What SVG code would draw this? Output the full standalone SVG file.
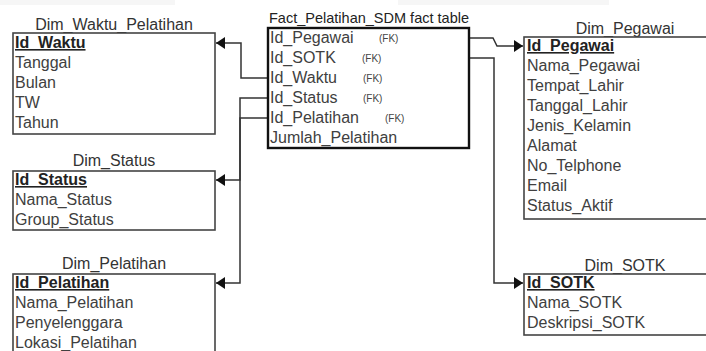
<svg xmlns="http://www.w3.org/2000/svg" width="706" height="351" viewBox="0 0 706 351">
<defs>
<style>
.t{font-family:"Liberation Sans",Arial,sans-serif;font-size:16px;fill:#404040}
.k{font-family:"Liberation Sans",Arial,sans-serif;font-size:16px;fill:#222;font-weight:bold;text-decoration:underline}
.fk{font-family:"Liberation Sans",Arial,sans-serif;font-size:10px;fill:#444}
.ttl{font-family:"Liberation Sans",Arial,sans-serif;font-size:16px;fill:#333;text-anchor:middle}
.box{fill:#fff;stroke:#444;stroke-width:1.6}
.fact{fill:#fff;stroke:#111;stroke-width:2.4}
.c{fill:none;stroke:#333;stroke-width:1.5}
</style>
<marker id="ah" viewBox="0 0 9 12" refX="9" refY="6" markerWidth="9" markerHeight="12" markerUnits="userSpaceOnUse" orient="auto">
<path d="M0,0 L9,6 L0,12 z" fill="#111"/>
</marker>
</defs>
<rect x="0" y="0" width="706" height="351" fill="#fff"/>
<rect x="0" y="0" width="175" height="5" fill="#f6f6f6"/>
<rect x="398" y="0" width="211" height="5" fill="#f6f6f6"/>

<g id="connectors">
<path class="c" d="M268,78 H241 V43 H216" marker-end="url(#ah)"/>
<path class="c" d="M268,98 H240 V180 H216" marker-end="url(#ah)"/>
<path class="c" d="M268,118 H240 V283 H216" marker-end="url(#ah)"/>
<path class="c" d="M469,38 H493 L497,46 H523" marker-end="url(#ah)"/>
<path class="c" d="M469,58 H494 V283 H523" marker-end="url(#ah)"/>
</g>

<g id="dim_waktu">
<text class="ttl" x="114" y="30">Dim_Waktu_Pelatihan</text>
<rect class="box" x="13" y="33" width="202" height="101"/>
<text class="k" x="15" y="48">Id_Waktu</text>
<text class="t" x="15" y="68">Tanggal</text>
<text class="t" x="15" y="88">Bulan</text>
<text class="t" x="15" y="108">TW</text>
<text class="t" x="15" y="128">Tahun</text>
</g>

<g id="dim_status">
<text class="ttl" x="114" y="166">Dim_Status</text>
<rect class="box" x="13" y="171" width="202" height="59"/>
<text class="k" x="15" y="185">Id_Status</text>
<text class="t" x="15" y="205">Nama_Status</text>
<text class="t" x="15" y="225">Group_Status</text>
</g>

<g id="dim_pelatihan">
<text class="ttl" x="114" y="269">Dim_Pelatihan</text>
<rect class="box" x="13" y="274" width="202" height="90"/>
<text class="k" x="15" y="288">Id_Pelatihan</text>
<text class="t" x="15" y="308">Nama_Pelatihan</text>
<text class="t" x="15" y="328">Penyelenggara</text>
<text class="t" x="15" y="348">Lokasi_Pelatihan</text>
</g>

<g id="fact_pelatihan_sdm">
<text class="t" x="269" y="23" textLength="200" lengthAdjust="spacingAndGlyphs" style="font-size:15px;fill:#222">Fact_Pelatihan_SDM fact table</text>
<rect class="fact" x="268" y="28" width="201" height="120"/>
<text class="t" x="270" y="43">Id_Pegawai</text><text class="fk" x="379" y="42">(FK)</text>
<text class="t" x="270" y="63">Id_SOTK</text><text class="fk" x="362" y="62">(FK)</text>
<text class="t" x="270" y="83">Id_Waktu</text><text class="fk" x="363" y="82">(FK)</text>
<text class="t" x="270" y="103">Id_Status</text><text class="fk" x="363" y="102">(FK)</text>
<text class="t" x="270" y="123">Id_Pelatihan</text><text class="fk" x="385" y="122">(FK)</text>
<text class="t" x="270" y="143">Jumlah_Pelatihan</text>
</g>

<g id="dim_pegawai">
<text class="ttl" x="625" y="34">Dim_Pegawai</text>
<rect class="box" x="524" y="37" width="200" height="182"/>
<text class="k" x="527" y="51">Id_Pegawai</text>
<text class="t" x="527" y="71">Nama_Pegawai</text>
<text class="t" x="527" y="91">Tempat_Lahir</text>
<text class="t" x="527" y="111">Tanggal_Lahir</text>
<text class="t" x="527" y="131">Jenis_Kelamin</text>
<text class="t" x="527" y="151">Alamat</text>
<text class="t" x="527" y="171">No_Telphone</text>
<text class="t" x="527" y="191">Email</text>
<text class="t" x="527" y="211">Status_Aktif</text>
</g>

<g id="dim_sotk">
<text class="ttl" x="625" y="271">Dim_SOTK</text>
<rect class="box" x="524" y="274" width="200" height="61"/>
<text class="k" x="527" y="288">Id_SOTK</text>
<text class="t" x="527" y="308">Nama_SOTK</text>
<text class="t" x="527" y="328">Deskripsi_SOTK</text>
</g>
</svg>
